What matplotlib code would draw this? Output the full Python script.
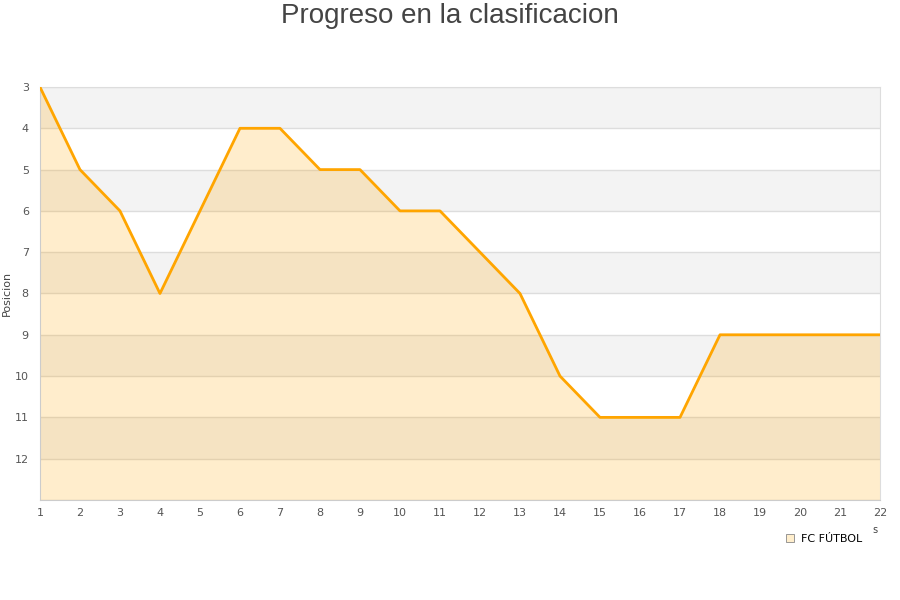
import matplotlib.pyplot as plt
from matplotlib.lines import Line2D

jornadas = list(range(1, 23))
posiciones = [3, 5, 6, 8, 6, 4, 4, 5, 5, 6, 6, 7, 8, 10, 11, 11, 11, 9, 9, 9, 9, 9]
y_ticks = list(range(3, 13))
equipo = "FC FÚTBOL"

fig = plt.figure(figsize=(9, 6), dpi=100)
ax = fig.add_axes([0.0444, 0.1667, 0.9334, 0.6883])

# bandas alternas
for y0 in range(3, 13, 2):
    ax.axhspan(y0, y0 + 1, color='#f3f3f3', zorder=0, lw=0)
for y in range(3, 14):
    ax.axhline(y, color='#dddddd', lw=1, zorder=1)

ax.fill_between(jornadas, posiciones, 13, color='#ffa500', alpha=0.2, lw=0, zorder=2)
ax.plot(jornadas, posiciones, color='#ffa500', lw=2, zorder=3)

ax.set_xlim(1, 22)
ax.set_ylim(13, 3)
ax.set_xticks(jornadas)
ax.set_yticks(y_ticks)
ax.tick_params(axis='both', length=0, labelsize=8, colors='#555555')
ax.tick_params(axis='y', pad=8)
ax.tick_params(axis='x', pad=6)
for side in ['top', 'right']:
    ax.spines[side].set_color('#dddddd')
for side in ['left', 'bottom']:
    ax.spines[side].set_color('#cccccc')
ax.set_ylabel("Posicion", fontsize=8, color='#444444')
ax.yaxis.set_label_coords(-0.034, 0.5)

fig.suptitle("Progreso en la clasificacion", fontsize=20, color='#444444',
             family='Liberation Sans', y=0.995)
fig.text(0.972, 0.112, "s", fontsize=7, color='#444444', ha='center')

handle = Line2D([], [], marker='s', ls='none', markersize=6,
                markerfacecolor='#ffeecc', markeredgecolor='#888888', markeredgewidth=0.6)
fig.legend([handle], [equipo], loc='center', bbox_to_anchor=(0.915, 0.102),
           frameon=False, fontsize=8, handletextpad=0.5, handlelength=1)

fig.savefig("out.png", dpi=100)
